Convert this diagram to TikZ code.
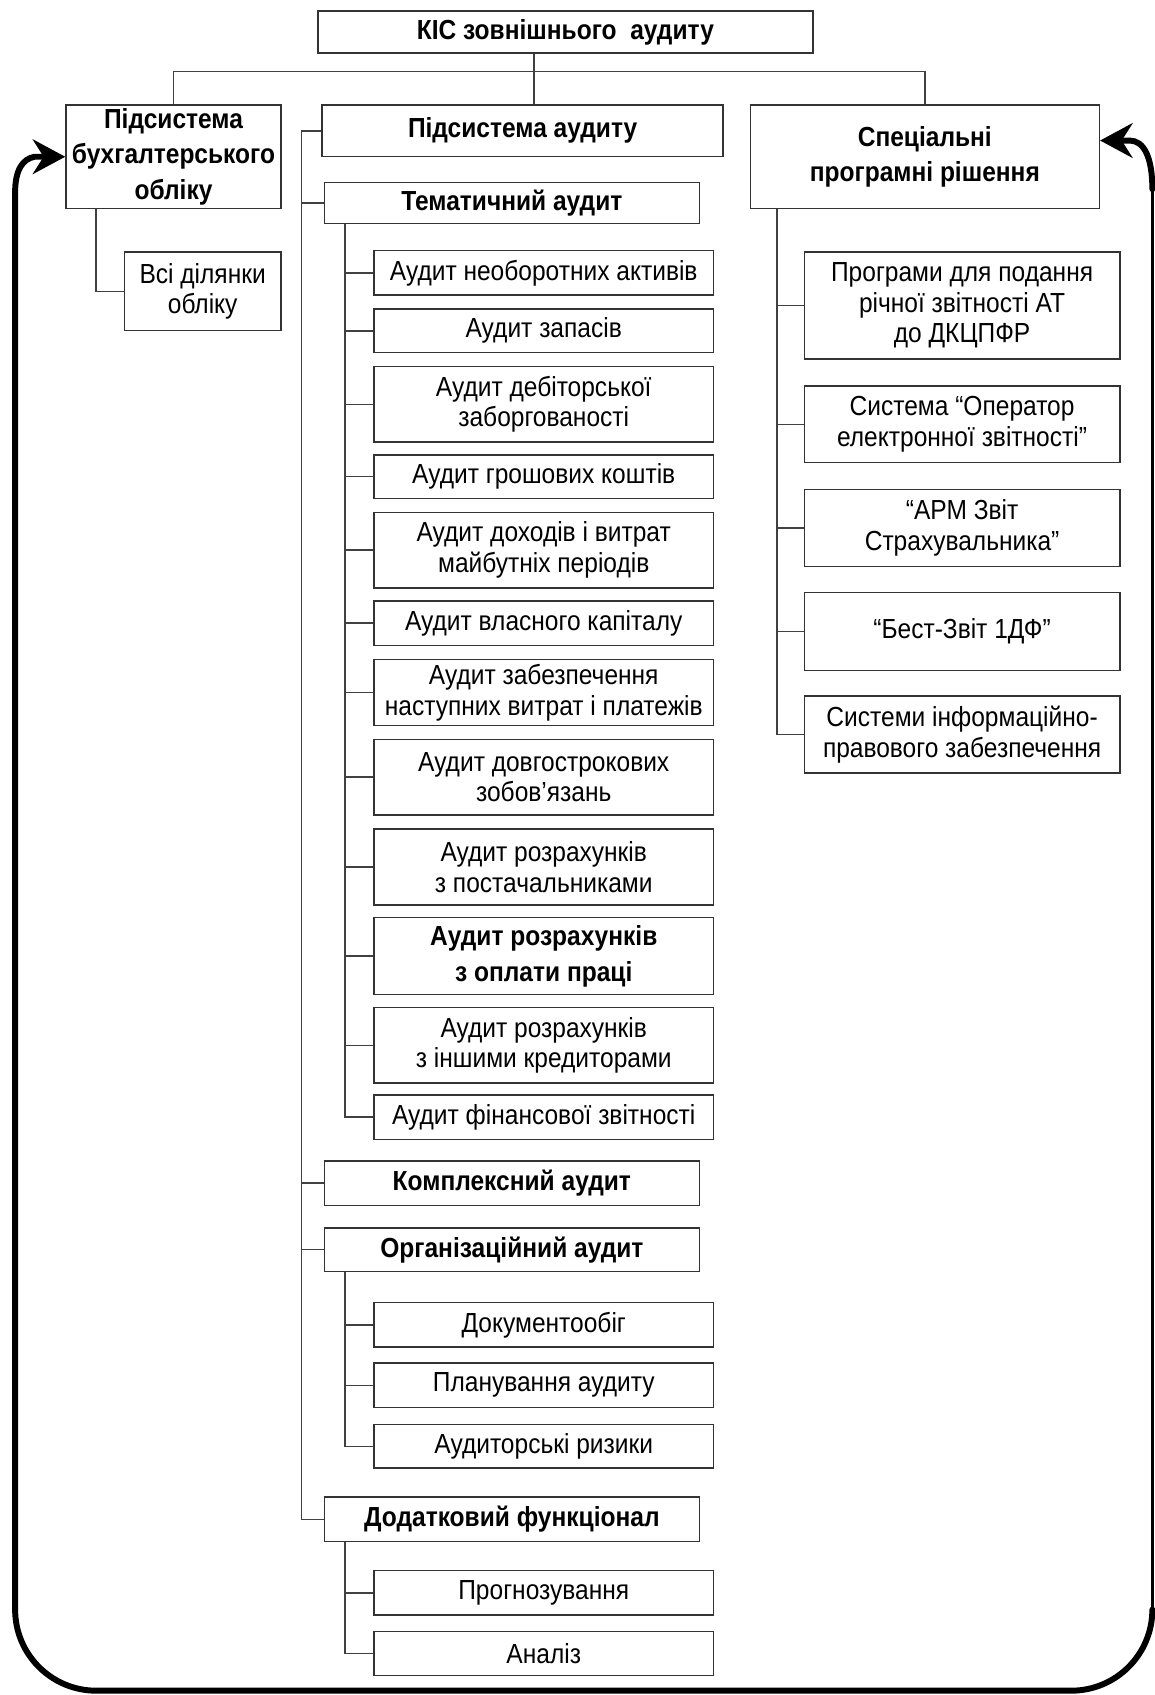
\documentclass[tikz,border=0pt]{standalone}
\usepackage{fontspec}
\setmainfont{Liberation Sans}[FakeStretch=0.89]
\usetikzlibrary{arrows.meta}
\tikzset{
  box/.style={draw=black!80, line width=1.3pt, align=center, inner sep=2pt, fill=white,
    font=\fontsize{25.5}{28.5}\selectfont},
  bbox/.style={box, font=\fontsize{25.5}{33}\selectfont\bfseries},
  conn/.style={draw=black!75, line width=1.4pt},
  bigtip/.tip={Stealth[length=30pt,width=32pt,inset=10pt]},
  thickloop/.style={line width=5.5pt, line cap=round},
  thinloop/.style={line width=2.2pt}
}
\newcommand\mybox[7]{%
  \node[#6,minimum width={(#4-#2)*1pt},minimum height={(#5-#3)*1pt}] (#1) at ({(#2+#4)/2},{(#3+#5)/2}) {#7};}
\begin{document}
\begin{tikzpicture}[x=1pt,y=-1pt]
\useasboundingbox (0,0) rectangle (1068,1568);
% top level
\mybox{top}{294}{10}{752}{49}{bbox}{КІС зовнішнього\ \ аудиту}
\mybox{bux}{61}{97}{260}{193}{bbox}{Підсистема\\бухгалтерського\\обліку}
\mybox{aud}{298}{97}{669}{145}{bbox}{Підсистема аудиту}
\mybox{spec}{694}{97}{1017}{193}{bbox}{Спеціальні\\програмні рішення}
% accounting child
\mybox{vsi}{115}{233}{260}{306}{box}{Всі ділянки\\обліку}
% audit
\mybox{tem}{300}{169}{647}{207}{bbox}{Тематичний аудит}
\mybox{a1}{346}{232}{660}{273}{box}{Аудит необоротних активів}
\mybox{a2}{346}{286}{660}{326}{box}{Аудит запасів}
\mybox{a3}{346}{339}{660}{409}{box}{Аудит дебіторської\\заборгованості}
\mybox{a4}{346}{421}{660}{461}{box}{Аудит грошових коштів}
\mybox{a5}{346}{474}{660}{544}{box}{Аудит доходів і витрат\\майбутніх періодів}
\mybox{a6}{346}{556}{660}{597}{box}{Аудит власного капіталу}
\mybox{a7}{346}{610}{660}{671}{box}{Аудит забезпечення\\наступних витрат і платежів}
\mybox{a8}{346}{684}{660}{754}{box}{Аудит довгострокових\\зобов’язань}
\mybox{a9}{346}{767}{660}{837}{box}{Аудит розрахунків\\з постачальниками}
\mybox{a10}{346}{849}{660}{920}{bbox}{Аудит розрахунків\\з оплати праці}
\mybox{a11}{346}{932}{660}{1002}{box}{Аудит розрахунків\\з іншими кредиторами}
\mybox{a12}{346}{1013}{660}{1054}{box}{Аудит фінансової звітності}
\mybox{kom}{300}{1074}{647}{1115}{bbox}{Комплексний аудит}
\mybox{org}{300}{1136}{647}{1176}{bbox}{Організаційний аудит}
\mybox{o1}{346}{1205}{660}{1246}{box}{Документообіг}
\mybox{o2}{346}{1261}{660}{1302}{box}{Планування аудиту}
\mybox{o3}{346}{1318}{660}{1358}{box}{Аудиторські ризики}
\mybox{dod}{300}{1385}{647}{1426}{bbox}{Додатковий функціонал}
\mybox{d1}{346}{1453}{660}{1494}{box}{Прогнозування}
\mybox{d2}{346}{1509}{660}{1550}{box}{Аналіз}
% special software
\mybox{s1}{744}{233}{1036}{332}{box}{Програми для подання\\річної звітності АТ\\до ДКЦПФР}
\mybox{s2}{744}{357}{1036}{428}{box}{Система “Оператор\\електронної звітності”}
\mybox{s3}{744}{453}{1036}{524}{box}{“АРМ Звіт\\Страхувальника”}
\mybox{s4}{744}{548}{1036}{620}{box}{“Бест-Звіт 1ДФ”}
\mybox{s5}{744}{644}{1036}{715}{box}{Системи інформаційно-\\правового забезпечення}
% trunk coordinates
\coordinate (bus) at (494,66);
\coordinate (btr) at (89,0);
\coordinate (atr) at (279,0);
\coordinate (ttr) at (319,0);
\coordinate (str) at (719,0);
% top connectors
\draw[conn] (top.south -| bus) -- (aud.north -| bus);
\draw[conn] (bux.north) -- (bux.north |- bus) -- (spec.north |- bus) -- (spec.north);
% accounting
\draw[conn] (btr |- bux.south) -- (btr |- vsi.west) -- (vsi.west);
% audit trunk
\draw[conn] (aud.west) -- (aud.west -| atr) -- (dod.west -| atr) -- (dod.west);
\foreach \n in {tem,kom,org} \draw[conn] (\n.west -| atr) -- (\n.west);
% thematic
\draw[conn] (ttr |- tem.south) -- (ttr |- a12.west) -- (a12.west);
\foreach \n in {a1,a2,a3,a4,a5,a6,a7,a8,a9,a10,a11} \draw[conn] (\n.west -| ttr) -- (\n.west);
% organisational
\draw[conn] (ttr |- org.south) -- (ttr |- o3.west) -- (o3.west);
\foreach \n in {o1,o2} \draw[conn] (\n.west -| ttr) -- (\n.west);
% additional
\draw[conn] (ttr |- dod.south) -- (ttr |- d2.west) -- (d2.west);
\draw[conn] (d1.west -| ttr) -- (d1.west);
% special
\draw[conn] (str |- spec.south) -- (str |- s5.west) -- (s5.west);
\foreach \n in {s1,s2,s3,s4} \draw[conn] (\n.west -| str) -- (\n.west);
% big feedback loop
\coordinate (rt) at ([yshift=15pt]spec.east);
\draw[thickloop, bigtip-] (bux.west) -- (32,145) .. controls (21,147) and (14,157) .. (14,178)
  -- (14,1489) .. controls (14,1530.4) and (47.6,1564) .. (89,1564)
  -- (991,1564) .. controls (1032.4,1564) and (1066,1530.4) .. (1066,1489);
\draw[thinloop] (1066,1490) -- (1066,170);
\draw[thickloop, -bigtip] (1066,175) .. controls (1066,145) and (1058,130) .. (1045,130) -- (rt);
\end{tikzpicture}
\end{document}
